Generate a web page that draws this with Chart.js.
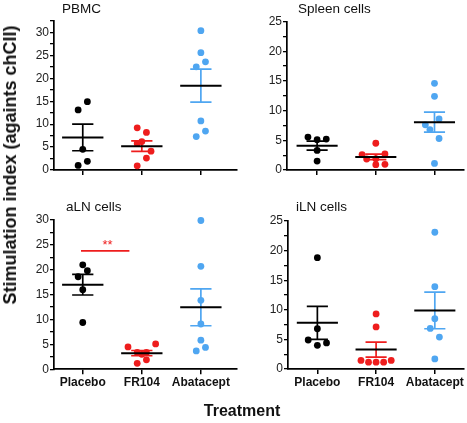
<!DOCTYPE html>
<html>
<head>
<meta charset="utf-8">
<title>Stimulation index</title>
<script src="https://cdn.jsdelivr.net/npm/chart.js@4.4.1/dist/chart.umd.min.js"></script>
<style>
    html, body { margin: 0; padding: 0; background: #fff; }
    #wrap {
        position: relative;
        width: 467px;
        height: 423px;
        overflow: hidden;
        font-family: "Liberation Sans", Arial, Helvetica, sans-serif;
        color: #111;
    }
    #wrap canvas { position: absolute; }
    .txt { position: absolute; white-space: nowrap; line-height: 1; }
    .panel-title { font-size: 13.5px; }
    #ytitle {
        left: 9.5px; top: 165px;
        font-size: 18px; font-weight: bold;
        transform: translate(-50%, -50%) rotate(-90deg);
    }
    #xtitle {
        left: 242px; top: 402.5px;
        font-size: 16px; font-weight: bold;
        transform: translateX(-50%);
    }
</style>
</head>
<body>
<div id="wrap">
    <canvas id="cPbmc" width="240" height="200" style="left:0;top:0"></canvas>
    <canvas id="cSpleen" width="233" height="200" style="left:234px;top:0"></canvas>
    <canvas id="cAln" width="240" height="223" style="left:0;top:200px"></canvas>
    <canvas id="cIln" width="233" height="223" style="left:234px;top:200px"></canvas>

    <div class="txt panel-title" style="left:62px;top:1.5px">PBMC</div>
    <div class="txt panel-title" style="left:298px;top:1.5px">Spleen cells</div>
    <div class="txt panel-title" style="left:66px;top:199.8px">aLN cells</div>
    <div class="txt panel-title" style="left:296px;top:199.8px">iLN cells</div>
    <div class="txt" id="ytitle">Stimulation index (againts chCII)</div>
    <div class="txt" id="xtitle">Treatment</div>
</div>

<script>
'use strict';

// 组别 / 配色
var groups = ['Placebo', 'FR104', 'Abatacept'];
var groupColors = ['#000000', '#ee1d1d', '#4fa6f1'];

// ---- PBMC ----
var pbmcPlacebo   = [14.9, 13.1, 4.5, 1.9, 1.0];
var pbmcFR104     = [9.2, 8.2, 6.2, 5.8, 4.1, 2.6, 0.9];
var pbmcAbatacept = [30.4, 25.6, 23.6, 22.5, 10.7, 8.5, 7.3];
var pbmcMean = [7.1, 5.2, 18.4];
var pbmcSem  = [2.9, 1.15, 3.6];
var pbmcYTicks = [0, 5, 10, 15, 20, 25, 30];

// ---- Spleen cells ----
var spleenPlacebo   = [5.55, 5.1, 5.2, 3.3, 1.5];
var spleenFR104     = [4.5, 2.6, 2.7, 1.85, 1.9, 0.9, 0.95];
var spleenAbatacept = [14.6, 12.4, 8.6, 7.6, 6.8, 5.3, 1.1];
var spleenMean = [4.1, 2.2, 8.05];
var spleenSem  = [0.76, 0.46, 1.69];
var spleenYTicks = [0, 5, 10, 15, 20, 25];

// ---- aLN cells ----
var alnPlacebo   = [21.0, 19.8, 18.6, 16.0, 9.4];
var alnFR104     = [4.5, 5.1, 3.4, 3.4, 3.0, 1.9, 1.2];
var alnAbatacept = [29.9, 20.7, 13.85, 9.1, 5.85, 3.7, 4.4];
var alnMean = [17.0, 3.25, 12.45];
var alnSem  = [2.07, 0.53, 3.7];
var alnYTicks = [0, 5, 10, 15, 20, 25, 30];

// ---- iLN cells ----
var ilnPlacebo   = [18.8, 6.8, 4.9, 4.4, 4.0];
var ilnFR104     = [9.3, 7.1, 1.45, 1.15, 1.15, 1.15, 1.45];
var ilnAbatacept = [23.1, 13.9, 8.5, 6.85, 5.4, 1.7];
var ilnMean = [7.8, 3.28, 9.9];
var ilnSem  = [2.78, 1.27, 3.1];
var ilnYTicks = [0, 5, 10, 15, 20, 25];

// 散点横向错位（以列为单位，负 = 左）
var pbmcCols   = [[1, -1, 0, 1, -1], [-1, 1, 0, -1, 2, 1, -1], [0, 0, 1, -1, 0, 1, -1]];
var spleenCols = [[-2, 0, 2, 0, 0], [0, -3, 2, -2, 0, 0, 2], [0, 0, 1, -2, -1, 1, 0]];
var alnCols    = [[0, 1, -1, 0, 0], [-3, 3, -1, 1, 0, 1, -1], [0, 0, 0, 0, 0, -1, 1]];
var ilnCols    = [[0, 0, -2, 2, 0], [0, 0, -3.3, -1.65, 0, 1.65, 3.3], [0, 0, 0, -1, 1, 0]];

// 显著性标注（aLN: Placebo vs FR104）
var sigLineX = [-0.03, 0.79];
var sigLineY = 23.8;
var sigLabel = '**';
var sigLabelX = 0.42;
var sigLabelY = 24.1;

var FONT = "'Liberation Sans', Arial, Helvetica, sans-serif";
var JITTER = 0.078;
var MEAN_HALF = 0.35;
var CAP_HALF = 0.18;
var MINOR_STEP = 2.5;

function buildDatasets(points, cols, means, sems) {
    var ds = [];
    for (var g = 0; g < groups.length; g++) {
        var hi = means[g] + sems[g];
        var lo = means[g] - sems[g];
        // SEM 误差线：上帽 / 竖线 / 下帽，用 null 断开
        ds.push({
            type: 'line',
            data: [
                { x: g - CAP_HALF, y: hi }, { x: g + CAP_HALF, y: hi }, { x: g, y: null },
                { x: g, y: hi }, { x: g, y: lo }, { x: g, y: null },
                { x: g - CAP_HALF, y: lo }, { x: g + CAP_HALF, y: lo }
            ],
            borderColor: groupColors[g],
            borderWidth: 1.7,
            pointRadius: 0,
            spanGaps: false,
            clip: false,
            order: 1
        });
        // 均值横线（统一黑色）
        ds.push({
            type: 'line',
            data: [{ x: g - MEAN_HALF, y: means[g] }, { x: g + MEAN_HALF, y: means[g] }],
            borderColor: '#000',
            borderWidth: 2,
            pointRadius: 0,
            clip: false,
            order: 0
        });
        var pts = [];
        for (var k = 0; k < points[g].length; k++) {
            pts.push({ x: g + cols[g][k] * JITTER, y: points[g][k] });
        }
        ds.push({
            type: 'scatter',
            data: pts,
            backgroundColor: groupColors[g],
            borderWidth: 0,
            pointRadius: 3.4,
            pointHoverRadius: 3.4,
            clip: false,
            order: 2
        });
    }
    return ds;
}

function isMajor(v, majors) {
    for (var i = 0; i < majors.length; i++) {
        if (Math.abs(majors[i] - v) < 1e-6) return true;
    }
    return false;
}

function makePanel(canvasId, cfg) {
    var canvas = document.getElementById(canvasId);
    var datasets = buildDatasets(cfg.points, cfg.cols, cfg.mean, cfg.sem);
    if (cfg.extraDatasets) datasets = datasets.concat(cfg.extraDatasets);

    return new Chart(canvas.getContext('2d'), {
        type: 'scatter',
        data: { datasets: datasets },
        plugins: cfg.plugins || [],
        options: {
            responsive: false,
            animation: false,
            devicePixelRatio: 1,
            events: [],
            layout: { padding: cfg.padding },
            plugins: {
                legend: { display: false },
                tooltip: { enabled: false },
                title: { display: false }
            },
            scales: {
                x: {
                    type: 'linear',
                    min: cfg.xMin,
                    max: cfg.xMax,
                    afterBuildTicks: function (s) {
                        s.ticks = groups.map(function (n, i) { return { value: i }; });
                    },
                    ticks: {
                        display: cfg.showX,
                        autoSkip: false,
                        maxRotation: 0,
                        padding: 1,
                        color: '#111',
                        font: { family: FONT, size: 12, weight: 'bold' },
                        callback: function (v) { return groups[v] || ''; }
                    },
                    grid: {
                        drawOnChartArea: false,
                        drawTicks: true,
                        tickLength: 5,
                        color: '#000',
                        lineWidth: 1.5
                    },
                    border: { display: true, color: '#000', width: 1.7 },
                    afterFit: function (s) { s.height = cfg.xH; }
                },
                y: {
                    type: 'linear',
                    min: 0,
                    max: cfg.yMax,
                    afterBuildTicks: function (s) {
                        var t = [];
                        for (var v = 0; v <= cfg.yMax + 1e-6; v += MINOR_STEP) t.push({ value: v });
                        s.ticks = t;
                    },
                    ticks: {
                        autoSkip: false,
                        padding: 1,
                        color: '#222',
                        font: { family: FONT, size: 12 },
                        callback: function (v) { return isMajor(v, cfg.yTicks) ? String(v) : ''; }
                    },
                    grid: {
                        drawOnChartArea: false,
                        drawTicks: true,
                        tickLength: 4,
                        color: '#000',
                        lineWidth: 1.3
                    },
                    border: { display: true, color: '#000', width: 1.7 },
                    afterFit: function (s) { s.width = cfg.yW; }
                }
            }
        }
    });
}

// "**" 文本按数据坐标绘制
var sigTextPlugin = {
    id: 'sigText',
    afterDatasetsDraw: function (chart) {
        var ctx = chart.ctx;
        var x = chart.scales.x.getPixelForValue(sigLabelX);
        var y = chart.scales.y.getPixelForValue(sigLabelY);
        ctx.save();
        ctx.fillStyle = groupColors[1];
        ctx.font = '13px ' + FONT;
        ctx.textAlign = 'center';
        ctx.textBaseline = 'alphabetic';
        ctx.fillText(sigLabel, x, y);
        ctx.restore();
    }
};

makePanel('cPbmc', {
    points: [pbmcPlacebo, pbmcFR104, pbmcAbatacept],
    cols: pbmcCols, mean: pbmcMean, sem: pbmcSem,
    yMax: 32.5, yTicks: pbmcYTicks,
    xMin: -0.487, xMax: 2.605, showX: false,
    padding: { left: 0, top: 21, right: 2, bottom: 0 },
    yW: 54, xH: 30
});

makePanel('cSpleen', {
    points: [spleenPlacebo, spleenFR104, spleenAbatacept],
    cols: spleenCols, mean: spleenMean, sem: spleenSem,
    yMax: 25, yTicks: spleenYTicks,
    xMin: -0.513, xMax: 2.496, showX: false,
    padding: { left: 0, top: 21.5, right: 1, bottom: 0 },
    yW: 53, xH: 30
});

makePanel('cAln', {
    points: [alnPlacebo, alnFR104, alnAbatacept],
    cols: alnCols, mean: alnMean, sem: alnSem,
    yMax: 30, yTicks: alnYTicks,
    xMin: -0.487, xMax: 2.605, showX: true,
    padding: { left: 0, top: 20, right: 2, bottom: 0 },
    yW: 54, xH: 53.7,
    extraDatasets: [{
        type: 'line',
        data: [{ x: sigLineX[0], y: sigLineY }, { x: sigLineX[1], y: sigLineY }],
        borderColor: groupColors[1],
        borderWidth: 1.6,
        pointRadius: 0,
        clip: false,
        order: 0
    }],
    plugins: [sigTextPlugin]
});

makePanel('cIln', {
    points: [ilnPlacebo, ilnFR104, ilnAbatacept],
    cols: ilnCols, mean: ilnMean, sem: ilnSem,
    yMax: 25, yTicks: ilnYTicks,
    xMin: -0.5, xMax: 2.49, showX: true,
    padding: { left: 0, top: 21, right: 1, bottom: 0 },
    yW: 54, xH: 54
});
</script>
</body>
</html>
